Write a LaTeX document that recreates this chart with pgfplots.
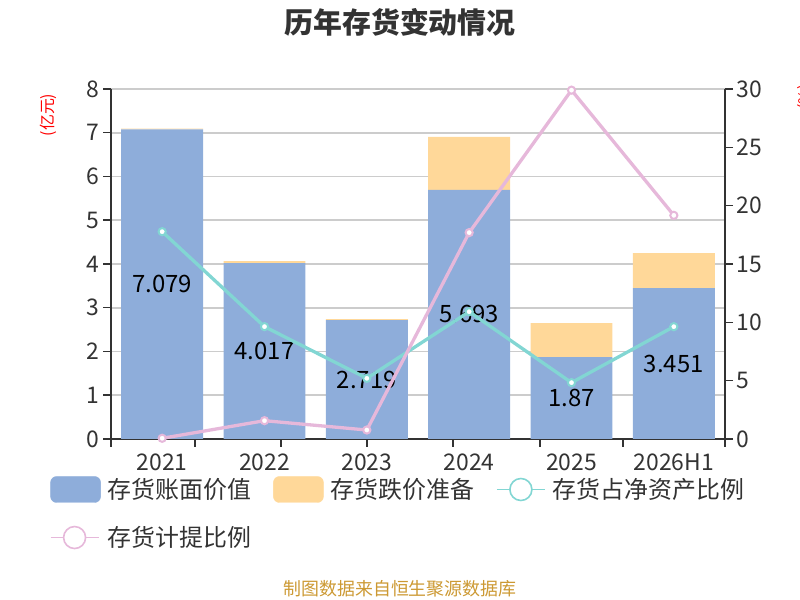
\documentclass[border=0pt]{standalone}
\usepackage{fontspec}
\setmainfont{Noto Sans CJK SC}
\usepackage{pgfplots}
\pgfplotsset{compat=1.18}
\definecolor{cbar}{RGB}{142,173,218}
\definecolor{corange}{RGB}{255,216,153}
\definecolor{cteal}{RGB}{130,214,211}
\definecolor{cpink}{RGB}{230,184,218}
\definecolor{ctext}{RGB}{51,51,51}
\definecolor{cgrid}{RGB}{204,204,204}
\definecolor{cfoot}{RGB}{204,153,51}
\pgfplotsset{
  common/.style={
    at={(111bp,161bp)}, anchor=south west,
    scale only axis, width=614bp, height=350bp,
    xmin=-0.5, xmax=5.5, clip=false,
    /pgf/number format/assume math mode=true,
    tick label style={font=\fontsize{23}{23}\selectfont, text=ctext},
    axis line style={ctext, line width=1.5bp, -},
    tick style={ctext, line width=1.5bp},
    major tick length=8bp, tick align=outside,
  }
}
\begin{document}
\begin{tikzpicture}[x=1bp,y=1bp]
\path[use as bounding box] (0,0) rectangle (800,600);
% bars
\begin{axis}[common,
  ymin=0, ymax=8, ytick={0,...,8},
  ybar stacked, bar width=0.8,
  axis x line*=bottom, axis y line*=left,
  xtick={-0.5,0.321,1.161,2.002,2.842,3.692,4.503,5.5}, xticklabels={},
  extra x ticks={0,1,2,3,4,5},
  extra x tick labels={2021,2022,2023,2024,2025,2026H1},
  extra x tick style={major tick length=0pt, grid=none, tick label style={yshift=-11bp}},
  ymajorgrids, grid style={cgrid, line width=1.6bp},
]
\addplot[fill=cbar, draw=none] coordinates {(0,7.079) (1,4.017) (2,2.719) (3,5.693) (4,1.87) (5,3.451)};
\addplot[fill=corange, draw=none] coordinates {(0,0.015) (1,0.05) (2,0.02) (3,1.21) (4,0.78) (5,0.80)};
\end{axis}
% labels in the middle of the blue bars
\begin{axis}[common, hide axis, ymin=0, ymax=8]
\addplot[draw=none, mark=none, nodes near coords, point meta=explicit symbolic,
  every node near coord/.append style={anchor=center, font=\fontsize{24}{24}\selectfont, text=black}]
  coordinates {(0,3.5395)[7.079] (1,2.0085)[4.017] (2,1.3595)[2.719] (3,2.8465)[5.693] (4,0.935)[1.87] (5,1.7255)[3.451]};
\end{axis}
% lines, right axis
\begin{axis}[common,
  ymin=0, ymax=30, ytick={0,5,...,30},
  axis x line=none, axis y line*=right,
  legend columns=3,
  legend style={draw=none, fill=none, at={(-0.100,-0.106)}, anchor=north west,
    font=\fontsize{24}{24}\selectfont, text=ctext, inner sep=0pt,
    row sep=22bp,
    /tikz/every even column/.append style={column sep=20bp},
    /tikz/every odd column/.append style={column sep=5bp}},
  legend cell align=left,
]
\addlegendimage{legend image code/.code={\fill[cbar, rounded corners=6bp] (0bp,-13bp) rectangle (50bp,13bp);}}
\addlegendentry{存货账面价值}
\addlegendimage{legend image code/.code={\fill[corange, rounded corners=6bp] (0bp,-13bp) rectangle (50bp,13bp);}}
\addlegendentry{存货跌价准备}
\addplot[cteal, line width=3.3bp, mark=*, mark size=3.6bp,
  mark options={fill=white, draw=cteal, line width=2bp},
  legend image code/.code={\draw[cteal, line width=1.6bp] (0bp,0bp) -- (48bp,0bp);
    \draw[cteal, line width=1.6bp, fill=white] (24bp,0bp) circle (11bp);}]
  coordinates {(0,17.77) (1,9.63) (2,5.2) (3,10.91) (4,4.83) (5,9.63)};
\addlegendentry{存货占净资产比例}
\addplot[cpink, line width=3.3bp, mark=*, mark size=3.6bp,
  mark options={fill=white, draw=cpink, line width=2bp},
  legend image code/.code={\draw[cpink, line width=1.6bp] (0bp,0bp) -- (48bp,0bp);
    \draw[cpink, line width=1.6bp, fill=white] (24bp,0bp) circle (11bp);}]
  coordinates {(0,0.06) (1,1.57) (2,0.77) (3,17.69) (4,29.9) (5,19.17)};
\addlegendentry{存货计提比例}
\end{axis}
\node[font=\bfseries\fontsize{29}{29}\selectfont, text=ctext] at (400,578) {历年存货变动情况};
\node[font=\fontsize{18}{18}\selectfont, text=cfoot] at (400,11) {制图数据来自恒生聚源数据库};
\node[font=\fontsize{16}{16}\selectfont, text=red, rotate=90] at (48,485) {(亿元)};
\node[font=\fontsize{16}{16}\selectfont, text=red, rotate=90] at (806,503) {(\%)};
\end{tikzpicture}
\end{document}
